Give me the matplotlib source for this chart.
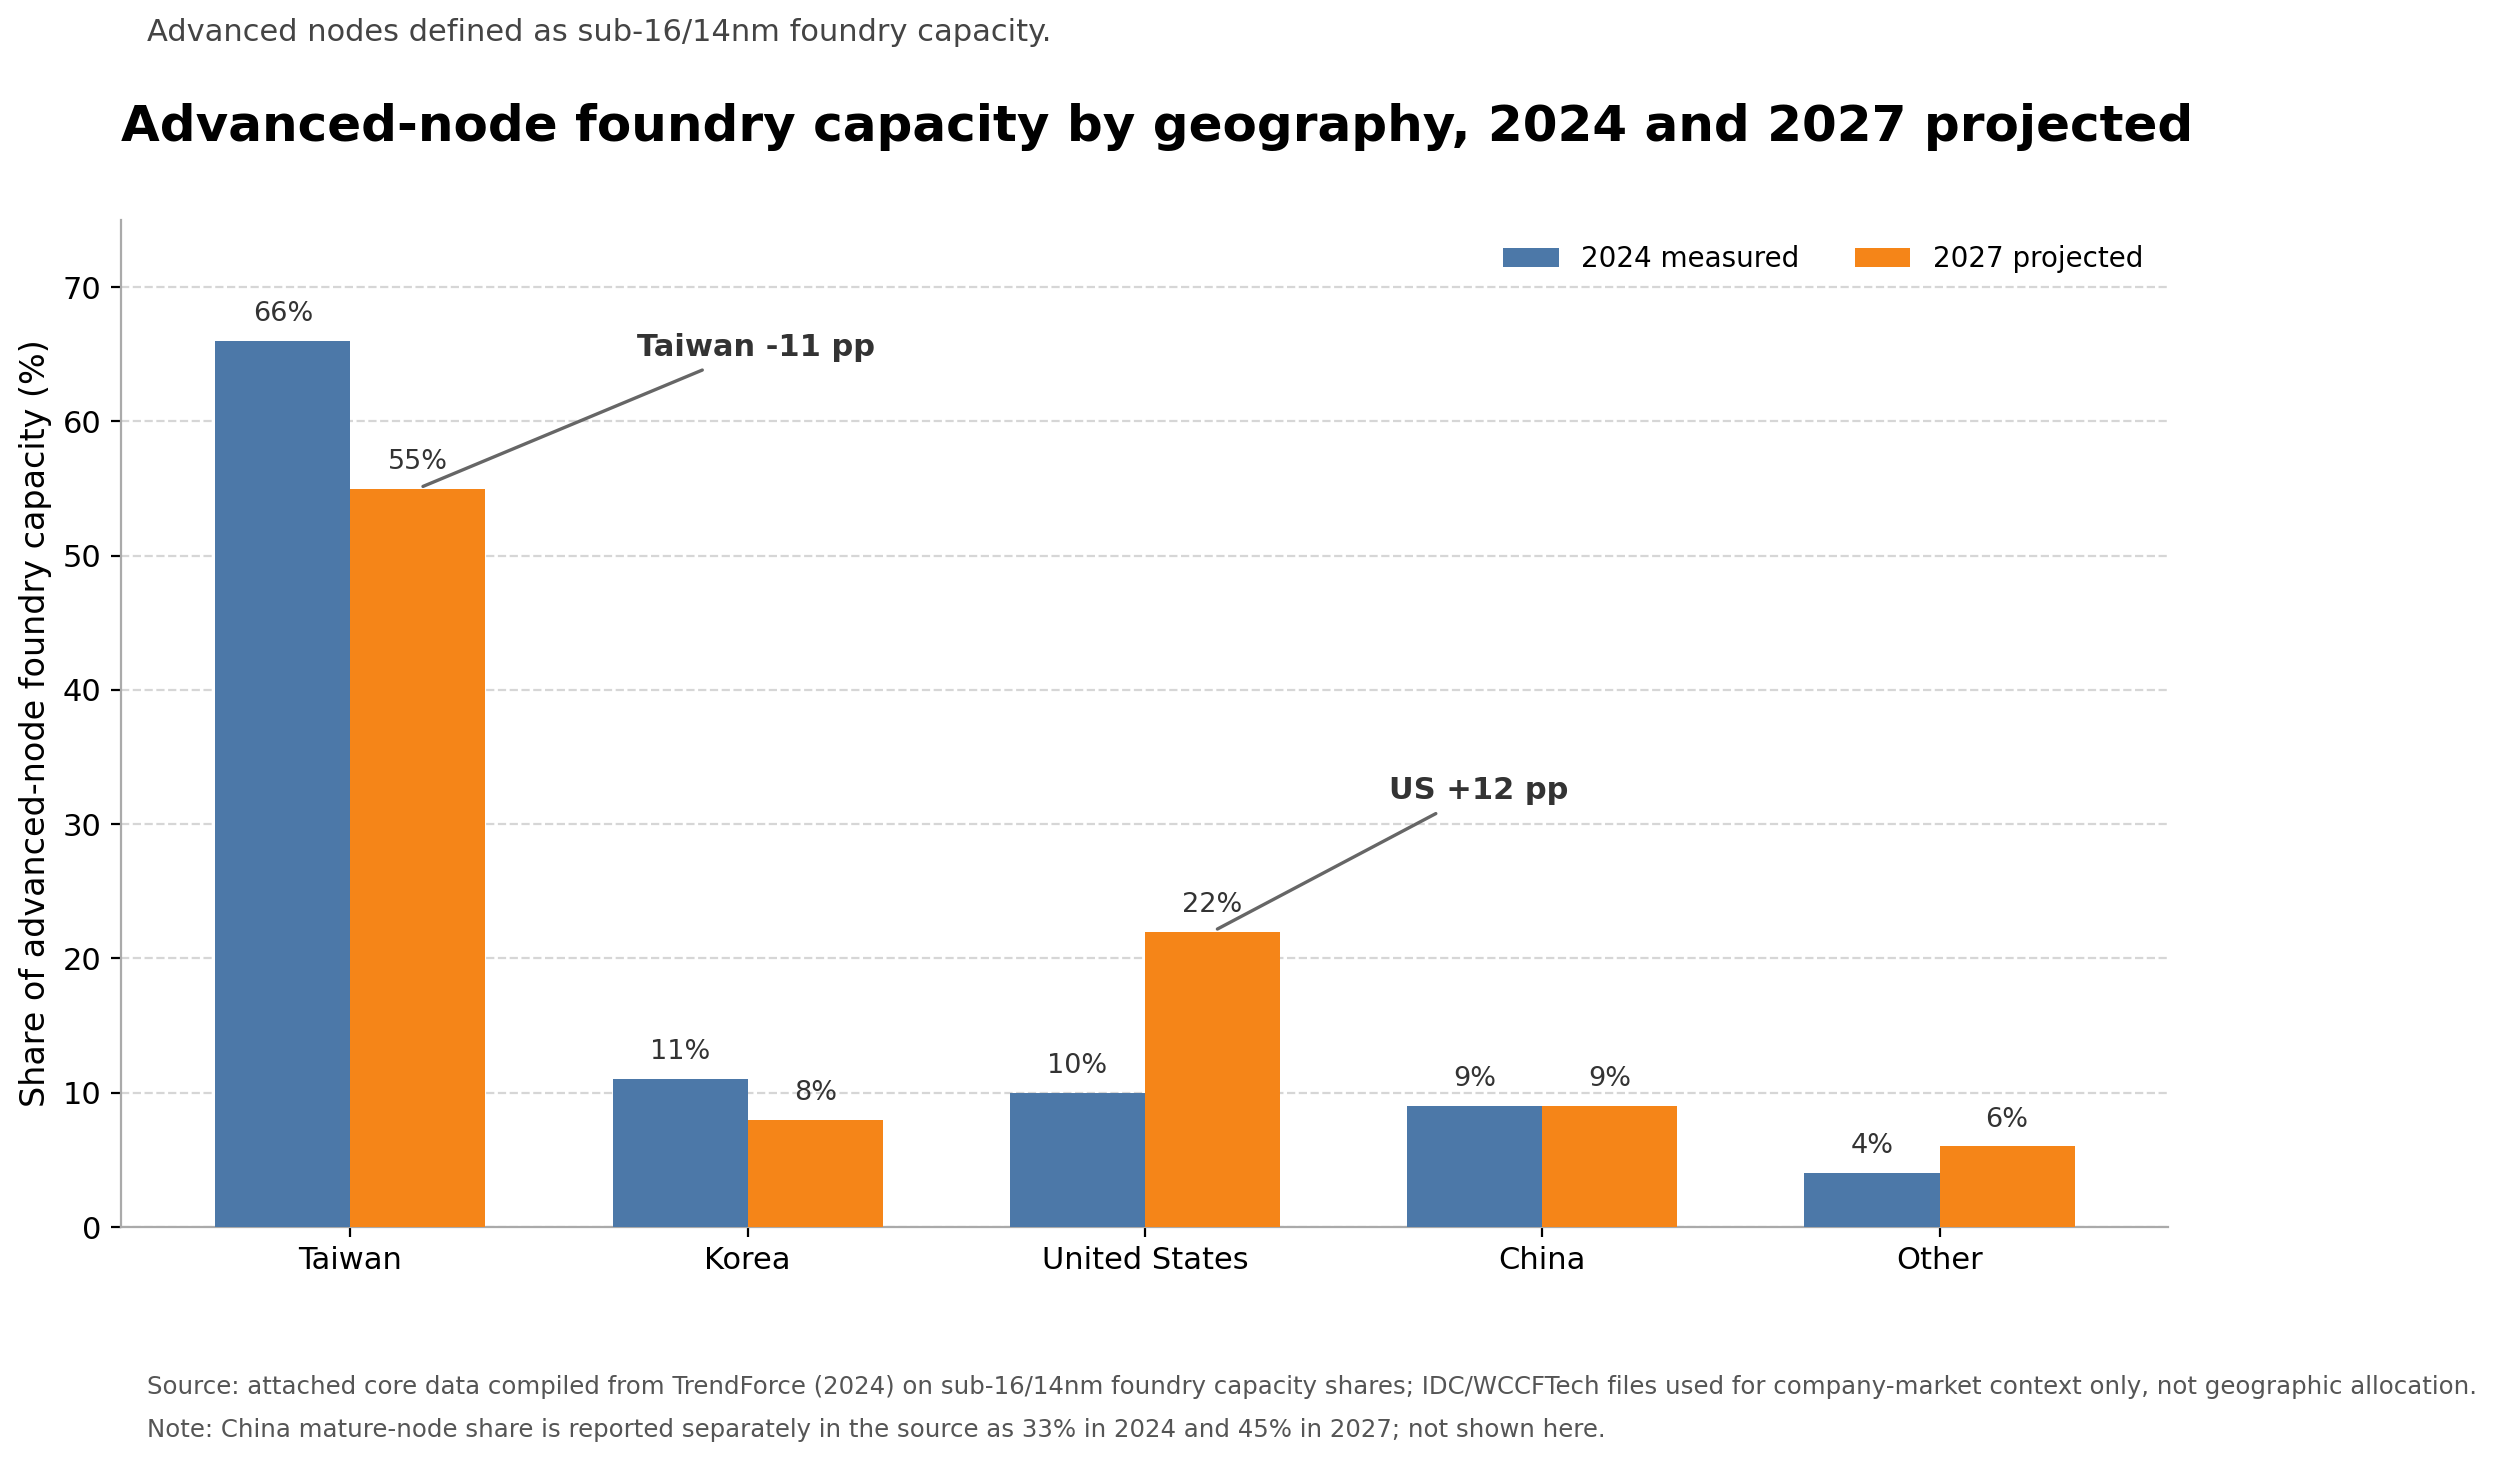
import numpy as np
import matplotlib.pyplot as plt

# data
regions = ["Taiwan", "Korea", "United States", "China", "Other"]
share_2024 = [66, 11, 10, 9, 4]
share_2027 = [55, 8, 22, 9, 6]

blue = "#4C78A8"
orange = "#F58518"
txt = "#333333"

fig = plt.figure(figsize=(12.48, 7.315), dpi=200)
ax = fig.add_axes([0.0485, 0.1613, 0.8201, 0.6883])

x = np.arange(len(regions))
w = 0.34
b1 = ax.bar(x - w / 2, share_2024, w, color=blue, label="2024 measured", zorder=3)
b2 = ax.bar(x + w / 2, share_2027, w, color=orange, label="2027 projected", zorder=3)

# value labels
for bars, vals in ((b1, share_2024), (b2, share_2027)):
    for rect, v in zip(bars, vals):
        ax.annotate(f"{v}%", (rect.get_x() + rect.get_width() / 2, v),
                    xytext=(0, 5), textcoords="offset points",
                    ha="center", va="bottom", fontsize=9.75, color=txt)

# callouts
ax.annotate("Taiwan -11 pp", xy=(0 + w / 2, share_2027[0]), xytext=(1.02, 64.4),
            ha="center", va="bottom", fontsize=11, fontweight="bold", color=txt,
            arrowprops=dict(arrowstyle="-", color="#666666", lw=1.2))
ax.annotate("US +12 pp", xy=(2 + w / 2, share_2027[2]), xytext=(2.84, 31.4),
            ha="center", va="bottom", fontsize=11, fontweight="bold", color=txt,
            arrowprops=dict(arrowstyle="-", color="#666666", lw=1.2))

ax.set_xticks(x)
ax.set_xticklabels(regions, fontsize=11)
ax.set_ylim(0, 75)
ax.set_xlim(-0.577, 4.575)
ax.set_yticks(range(0, 80, 10))
ax.tick_params(axis="y", labelsize=11)
ax.set_ylabel("Share of advanced-node foundry capacity (%)", fontsize=12)
ax.yaxis.grid(True, linestyle="--", color="#d6d6d6", lw=0.8, zorder=0)
ax.set_axisbelow(True)
for s in ("top", "right"):
    ax.spines[s].set_visible(False)
for s in ("left", "bottom"):
    ax.spines[s].set_color("#aaaaaa")

ax.legend(loc="upper right", ncol=2, frameon=False, fontsize=10,
          bbox_to_anchor=(1.0, 1.0), columnspacing=2.0)

fig.text(0.0485, 0.913, "Advanced-node foundry capacity by geography, 2024 and 2027 projected",
         fontsize=18, fontweight="bold", va="center", ha="left")
fig.text(0.0587, 0.978, "Advanced nodes defined as sub-16/14nm foundry capacity.",
         fontsize=11, color="#444444", va="center", ha="left")
fig.text(0.0587, 0.052,
         "Source: attached core data compiled from TrendForce (2024) on sub-16/14nm foundry capacity shares; "
         "IDC/WCCFTech files used for company-market context only, not geographic allocation.",
         fontsize=8.8, color="#555555", va="center", ha="left")
fig.text(0.0587, 0.0226,
         "Note: China mature-node share is reported separately in the source as 33% in 2024 and 45% in 2027; not shown here.",
         fontsize=8.8, color="#555555", va="center", ha="left")

fig.savefig("out.png", dpi=200)
